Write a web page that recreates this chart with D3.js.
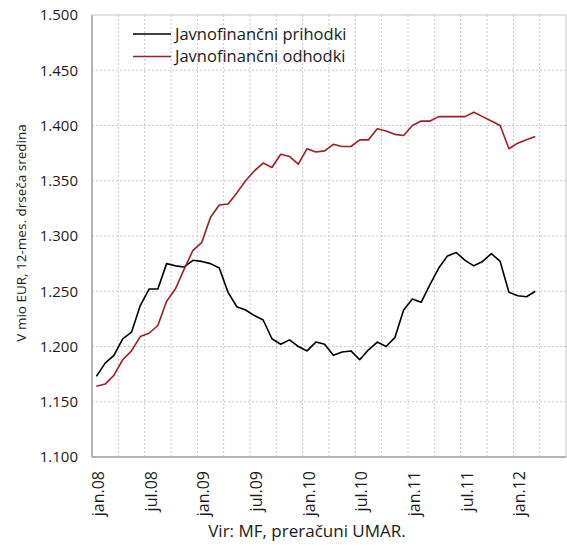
<!DOCTYPE html>
<html>
<head>
<meta charset="utf-8">
<script src="https://cdn.jsdelivr.net/npm/d3@7"></script>
<style>
  body { margin: 0; background: #fff; }
  text { font-family: "Open Sans", "Noto Sans", sans-serif; fill: #1a1a1a; }
</style>
</head>
<body>
<div id="chart"></div>
<script>
// months jan.08 .. jun.12 (axis runs 3 months beyond the data)
const monthNames = ["jan", "feb", "mar", "apr", "maj", "jun", "jul", "avg", "sep", "okt", "nov", "dec"];
const months = [];
for (let y = 8; y <= 12; y++) {
    for (let m = 0; m < 12; m++) {
        if (y === 12 && m > 5) break;
        months.push(monthNames[m] + "." + String(y).padStart(2, "0"));
    }
}

// mio EUR, 12-month moving average, jan.08 .. mar.12
const prihodki = [1173, 1185, 1192, 1207, 1213, 1237, 1252, 1252, 1275, 1273, 1272, 1278,
    1277, 1275, 1271, 1249, 1236, 1233, 1228, 1224, 1207, 1202, 1206, 1200,
    1196, 1204, 1202, 1192, 1195, 1196, 1188, 1197, 1204, 1200, 1208, 1233,
    1243, 1240, 1256, 1271, 1282, 1285, 1278, 1273, 1277, 1284, 1277, 1249,
    1246, 1245, 1250];
const odhodki = [1164, 1166, 1174, 1188, 1196, 1209, 1212, 1219, 1241, 1252, 1270, 1287,
    1294, 1317, 1328, 1329, 1339, 1350, 1359, 1366, 1362, 1374, 1372, 1365,
    1379, 1376, 1377, 1383, 1381, 1381, 1387, 1387, 1397, 1395, 1392, 1391,
    1400, 1404, 1404, 1408, 1408, 1408, 1408, 1412, 1408, 1404, 1400, 1379,
    1384, 1387, 1390];
const yTicks = [1100, 1150, 1200, 1250, 1300, 1350, 1400, 1450, 1500];
const seriesNames = ["Javnofinančni prihodki", "Javnofinančni odhodki"];
const seriesColors = ["#000000", "#a21c24"];

const width = 567, height = 545;
const margin = {top: 15, right: 1, bottom: 88, left: 92};
const innerW = width - margin.left - margin.right;
const innerH = height - margin.top - margin.bottom;

const svg = d3.select("#chart").append("svg")
    .attr("width", width)
    .attr("height", height);

const g = svg.append("g")
    .attr("transform", `translate(${margin.left},${margin.top})`);

const x = d3.scaleBand().domain(months).range([0, innerW]).padding(0);
const y = d3.scaleLinear().domain([1100, 1500]).range([innerH, 0]);

const si = d3.formatLocale({decimal: ",", thousands: ".", grouping: [3], currency: ["", " €"]});
const fmt = si.format(",");

// grid
g.append("g").selectAll("line")
    .data(yTicks.slice(1, -1))
    .enter().append("line")
    .attr("x1", 0).attr("x2", innerW)
    .attr("y1", d => y(d)).attr("y2", d => y(d))
    .attr("stroke", "#c8c8c8")
    .attr("stroke-dasharray", "2,2");

g.append("g").selectAll("line")
    .data(months.filter((d, i) => i > 0 && i % 3 === 0))
    .enter().append("line")
    .attr("x1", d => x(d)).attr("x2", d => x(d))
    .attr("y1", 0).attr("y2", innerH)
    .attr("stroke", "#c8c8c8")
    .attr("stroke-dasharray", "2,2");

// frame
g.append("rect")
    .attr("width", innerW).attr("height", innerH)
    .attr("fill", "none")
    .attr("stroke", "#c4c4c4");
g.append("line")
    .attr("x1", 0).attr("x2", 0).attr("y1", 0).attr("y2", innerH)
    .attr("stroke", "#b4b4b4").attr("stroke-width", 2);
g.append("line")
    .attr("x1", 0).attr("x2", innerW).attr("y1", innerH).attr("y2", innerH)
    .attr("stroke", "#b4b4b4").attr("stroke-width", 2);

// y axis labels
const yAxis = d3.axisLeft(y).tickValues(yTicks).tickFormat(fmt).tickSize(0).tickPadding(14);
g.append("g").call(yAxis)
    .call(s => s.select(".domain").remove())
    .selectAll("text")
    .style("font-size", "15px")
    .attr("fill", "#1a1a1a");

// x axis labels
const xAxis = d3.axisBottom(x)
    .tickValues(months.filter(d => d.startsWith("jan") || d.startsWith("jul")))
    .tickSize(0);
g.append("g")
    .attr("transform", `translate(0,${innerH})`)
    .call(xAxis)
    .call(s => s.select(".domain").remove())
    .selectAll("text")
    .style("font-size", "16px")
    .attr("fill", "#1a1a1a")
    .attr("text-anchor", "end")
    .attr("transform", "rotate(-90)")
    .attr("x", -14)
    .attr("y", 2)
    .attr("dy", "0.35em");

// lines
const line = d3.line()
    .x((d, i) => x(months[i]) + x.bandwidth() / 2)
    .y(d => y(d));

[prihodki, odhodki].forEach((s, k) => {
    g.append("path")
        .datum(s)
        .attr("fill", "none")
        .attr("stroke", seriesColors[k])
        .attr("stroke-width", 1.6)
        .attr("stroke-linejoin", "round")
        .attr("d", line);
});

// legend
const legend = svg.append("g").attr("transform", "translate(133,34)");
seriesNames.forEach((name, k) => {
    const row = legend.append("g").attr("transform", `translate(0,${k * 22.5})`);
    row.append("line")
        .attr("x1", 0).attr("x2", 38)
        .attr("stroke", seriesColors[k])
        .attr("stroke-width", 1.6);
    row.append("text")
        .attr("x", 42)
        .attr("dy", "0.35em")
        .style("font-size", "16.5px")
        .text(name);
});

// y title
svg.append("text")
    .attr("transform", "translate(21,233) rotate(-90)")
    .attr("text-anchor", "middle")
    .attr("dy", "0.35em")
    .style("font-size", "13.5px")
    .text("V mio EUR, 12-mes. drseča sredina");

// source
svg.append("text")
    .attr("x", 307)
    .attr("y", 537)
    .attr("text-anchor", "middle")
    .style("font-size", "17px")
    .text("Vir: MF, preračuni UMAR.");
</script>
</body>
</html>
